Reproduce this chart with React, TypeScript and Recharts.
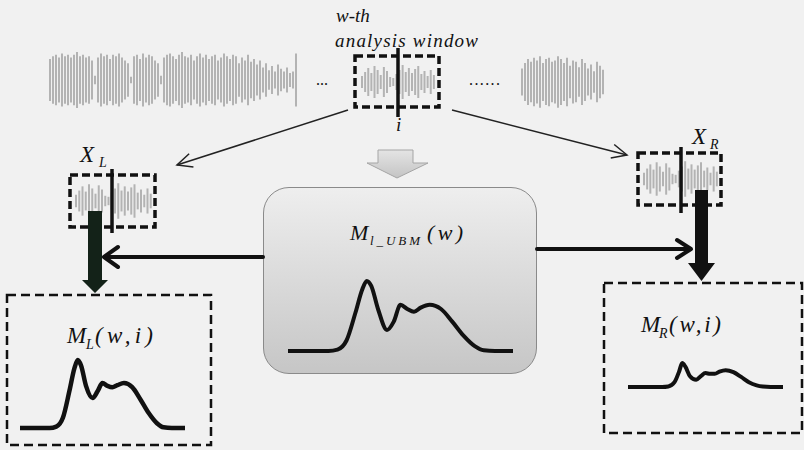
import React from "react";
import { BarChart, Bar, LineChart, Line, XAxis, YAxis } from "recharts";

// waveform amplitudes (0..1)
const streamAmps = [
  0.75, 0.85, 0.9, 0.8, 0.95, 0.85, 0.9, 0.8, 0.9, 1.0, 0.85, 0.9, 0.8, 0.85, 0.7,
  0.15,
  0.8, 0.95, 0.85, 0.9, 0.75, 0.9, 0.85, 0.95, 0.8, 0.7, 0.6,
  0.12,
  0.85, 0.9, 0.75, 0.95, 0.8, 0.9, 0.85, 0.7, 0.6,
  0.15,
  0.8, 0.9, 0.95, 0.85, 0.75, 0.9, 1.0, 0.85, 0.8, 0.9, 0.7, 0.85,
  0.95, 0.8, 0.9, 0.75, 0.85, 0.9, 0.7, 0.8, 0.95, 0.85, 0.75,
  0.9, 0.85, 0.6, 0.8, 0.7, 0.9, 0.65, 0.75, 0.55, 0.7,
  0.45, 0.6, 0.35, 0.5, 0.3, 0.55, 0.4, 0.3, 0.45, 0.25, 0.3,
  0.95,
];
const tailAmps = [
  0.5, 0.7, 0.85, 0.75, 0.9, 0.8, 0.95, 0.7, 0.85, 0.9, 0.75, 0.8, 0.95, 0.85,
  0.7, 0.9, 0.6, 0.8, 0.75, 0.55, 0.85, 0.7, 0.5, 0.65, 0.4, 0.75, 0.6, 0.45,
];
const windowAmps = [
  0.3, 0.5, 0.7, 0.45, 0.8, 0.6, 0.35, 0.75, 0.55, 0.25, 0.2, 0.4,
  0.6, 0.85, 0.5, 0.7, 0.45, 0.65, 0.8, 0.4, 0.55, 0.3, 0.6, 0.35,
];

// density curves, shared x grid
const curveX = [
  0, 0.1, 0.18, 0.22, 0.26, 0.3, 0.33, 0.35, 0.37, 0.4, 0.44, 0.47, 0.5, 0.53,
  0.56, 0.59, 0.63, 0.68, 0.73, 0.78, 0.83, 0.87, 0.92, 1.0,
];
const ubmY = [
  0, 0, 0, 0.02, 0.15, 0.55, 0.88, 1.0, 0.93, 0.6, 0.3, 0.42, 0.66, 0.6, 0.56,
  0.62, 0.66, 0.6, 0.42, 0.22, 0.07, 0.01, 0, 0,
];
const leftY = [
  0, 0, 0, 0.02, 0.15, 0.55, 0.88, 1.0, 0.92, 0.62, 0.44, 0.54, 0.66, 0.62, 0.6,
  0.63, 0.66, 0.6, 0.42, 0.22, 0.07, 0.01, 0, 0,
];
const rightY = [
  0, 0, 0, 0, 0.02, 0.2, 0.65, 1.0, 0.85, 0.45, 0.3, 0.45, 0.58, 0.55, 0.55,
  0.64, 0.7, 0.62, 0.42, 0.2, 0.07, 0.02, 0, 0,
];

const serif: React.CSSProperties = {
  fontFamily: '"Liberation Serif", "DejaVu Serif", serif',
  fontStyle: "italic",
};

function Wave({ amps, left, top, width, height, barSize = 2, max = 1 }: any) {
  const data = amps.map((a: number, i: number) => ({ i, a }));
  return (
    <div style={{ position: "absolute", left, top }}>
      <BarChart
        width={width}
        height={height}
        data={data}
        margin={{ top: 0, right: 0, bottom: 0, left: 0 }}
        barCategoryGap={0}
      >
        <XAxis dataKey="i" hide />
        <YAxis hide domain={[-max, max]} />
        <Bar
          dataKey={(d: any) => [-d.a, d.a]}
          fill="#b3b3b3"
          barSize={barSize}
          isAnimationActive={false}
        />
      </BarChart>
    </div>
  );
}

function Curve({ ys, left, top, width, height, sw = 4 }: any) {
  const data = curveX.map((x, i) => ({ x, y: ys[i] }));
  return (
    <div style={{ position: "absolute", left, top }}>
      <LineChart
        width={width}
        height={height}
        data={data}
        margin={{ top: 3, right: 3, bottom: 3, left: 3 }}
      >
        <XAxis dataKey="x" type="number" domain={[0, 1]} hide />
        <YAxis domain={[0, 1]} hide />
        <Line
          type="monotone"
          dataKey="y"
          stroke="#111"
          strokeWidth={sw}
          dot={false}
          isAnimationActive={false}
        />
      </LineChart>
    </div>
  );
}

// open arrow head at (x2,y2) pointing away from (x1,y1)
function head(x1: number, y1: number, x2: number, y2: number, len: number, half: number) {
  const dx = x2 - x1;
  const dy = y2 - y1;
  const d = Math.hypot(dx, dy);
  const ux = dx / d;
  const uy = dy / d;
  const bx = x2 - ux * len;
  const by = y2 - uy * len;
  return `M${bx - uy * half},${by + ux * half} L${x2},${y2} L${bx + uy * half},${by - ux * half}`;
}

export default function App() {
  return (
    <div
      style={{
        position: "absolute",
        left: 0,
        top: 0,
        width: 804,
        height: 450,
        background: "#f1f1f1",
        overflow: "hidden",
      }}
    >
      {/* UBM box */}
      <div
        style={{
          position: "absolute",
          left: 263,
          top: 187,
          width: 274,
          height: 187,
          boxSizing: "border-box",
          border: "1.5px solid #8a8a8a",
          borderRadius: 26,
          background: "linear-gradient(to bottom, #eeeeee, #c6c6c6)",
        }}
      />

      {/* waveforms */}
      <Wave amps={streamAmps} left={48} top={52} width={249} height={56} />
      <Wave amps={tailAmps} left={520} top={55} width={84} height={54} />
      <Wave amps={windowAmps} left={360} top={60} width={75} height={44} max={1.1} />
      <Wave amps={windowAmps} left={74} top={178} width={78} height={46} max={1.1} />
      <Wave amps={windowAmps} left={642} top={156} width={76} height={46} max={1.1} />

      {/* models */}
      <Curve ys={ubmY} left={285} top={278} width={231} height={76} />
      <Curve ys={leftY} left={17} top={357} width={171} height={74} sw={4.5} />
      <Curve ys={rightY} left={625} top={360} width={161} height={30} />

      <svg
        width={804}
        height={450}
        style={{ position: "absolute", left: 0, top: 0, pointerEvents: "none" }}
      >
        <defs>
          <linearGradient id="gArrow" x1="0" y1="0" x2="0" y2="1">
            <stop offset="0" stopColor="#e4e4e4" />
            <stop offset="1" stopColor="#c4c4c4" />
          </linearGradient>
        </defs>

        {/* labels on top */}
        <g style={serif} fill="#111">
          <text x={336} y={22} fontSize={19}>w-th</text>
          <text x={335} y={47} fontSize={19} textLength={143} lengthAdjust="spacing">
            analysis window
          </text>
          <text x={396} y={131} fontSize={19}>i</text>
        </g>
        <g style={{ ...serif, fontStyle: "normal" }} fill="#111" fontSize={16}>
          <text x={316} y={85}>...</text>
          <text x={469} y={85} textLength={31}>......</text>
        </g>

        {/* analysis window */}
        <rect x={355} y={56} width={84} height={51} fill="none" stroke="#111" strokeWidth={3.5} strokeDasharray="8 4" />
        <line x1={398} y1={48} x2={398} y2={117} stroke="#111" strokeWidth={3.5} />

        {/* thin arrows */}
        <g stroke="#222" strokeWidth={1.5} fill="none">
          <line x1={348} y1={110} x2={177} y2={165} />
          <path d={head(348, 110, 177, 165, 15, 7)} />
          <line x1={452} y1={110} x2={627} y2={155} />
          <path d={head(452, 110, 627, 155, 15, 7)} />
        </g>

        {/* grey block arrow */}
        <polygon
          points="378,150 413,150 413,163 428,163 397,178 367,163 378,163"
          fill="url(#gArrow)"
          stroke="#a5a5a5"
          strokeWidth={1}
        />

        {/* X_L / X_R windows */}
        <rect x={70} y={175} width={85} height={52} fill="none" stroke="#111" strokeWidth={3.5} strokeDasharray="8 4" />
        <line x1={112} y1={169} x2={112} y2={233} stroke="#111" strokeWidth={3.5} />
        <rect x={638} y={153} width={83} height={52} fill="none" stroke="#111" strokeWidth={3.5} strokeDasharray="8 4" />
        <line x1={681} y1={147} x2={681} y2={213} stroke="#111" strokeWidth={3.5} />

        <g style={serif} fill="#111">
          <text x={80} y={162} fontSize={23}>X</text>
          <text x={99} y={167} fontSize={14}>L</text>
          <text x={692} y={144} fontSize={23}>X</text>
          <text x={710} y={149} fontSize={14}>R</text>
        </g>

        {/* thick black arrows */}
        <polygon points="88,211 102,211 102,280 108,280 95,293 82,280 88,280" fill="#132218" />
        <polygon points="695,190 708,190 708,263 715,263 701.5,281 688,263 695,263" fill="#111" />

        {/* horizontal arrows out of the UBM box */}
        <g stroke="#111" strokeWidth={4} fill="none" strokeLinecap="round" strokeLinejoin="round">
          <line x1={263} y1={257} x2={105} y2={257} />
          <path d={head(263, 257, 104, 257, 14, 10)} />
          <line x1={537} y1={249} x2={690} y2={249} />
          <path d={head(537, 249, 691, 249, 14, 9)} />
        </g>

        {/* result boxes */}
        <rect x={7} y={295} width={204} height={150} fill="none" stroke="#111" strokeWidth={2.5} strokeDasharray="9 5" />
        <rect x={604} y={283} width={198} height={150} fill="none" stroke="#111" strokeWidth={2.5} strokeDasharray="9 5" />

        {/* model labels */}
        <g style={serif} fill="#111">
          <text x={350} y={240} fontSize={22}>M</text>
          <text x={370} y={245} fontSize={13} textLength={50}>l_UBM</text>
          <text x={427} y={240} fontSize={22} textLength={36}>(w)</text>

          <text x={67} y={343} fontSize={23}>M</text>
          <text x={86} y={349} fontSize={14}>L</text>
          <text x={95} y={343} fontSize={23} textLength={58}>(w,i)</text>

          <text x={641} y={332} fontSize={23}>M</text>
          <text x={659} y={338} fontSize={14}>R</text>
          <text x={669} y={332} fontSize={23} textLength={52}>(w,i)</text>
        </g>
      </svg>
    </div>
  );
}
